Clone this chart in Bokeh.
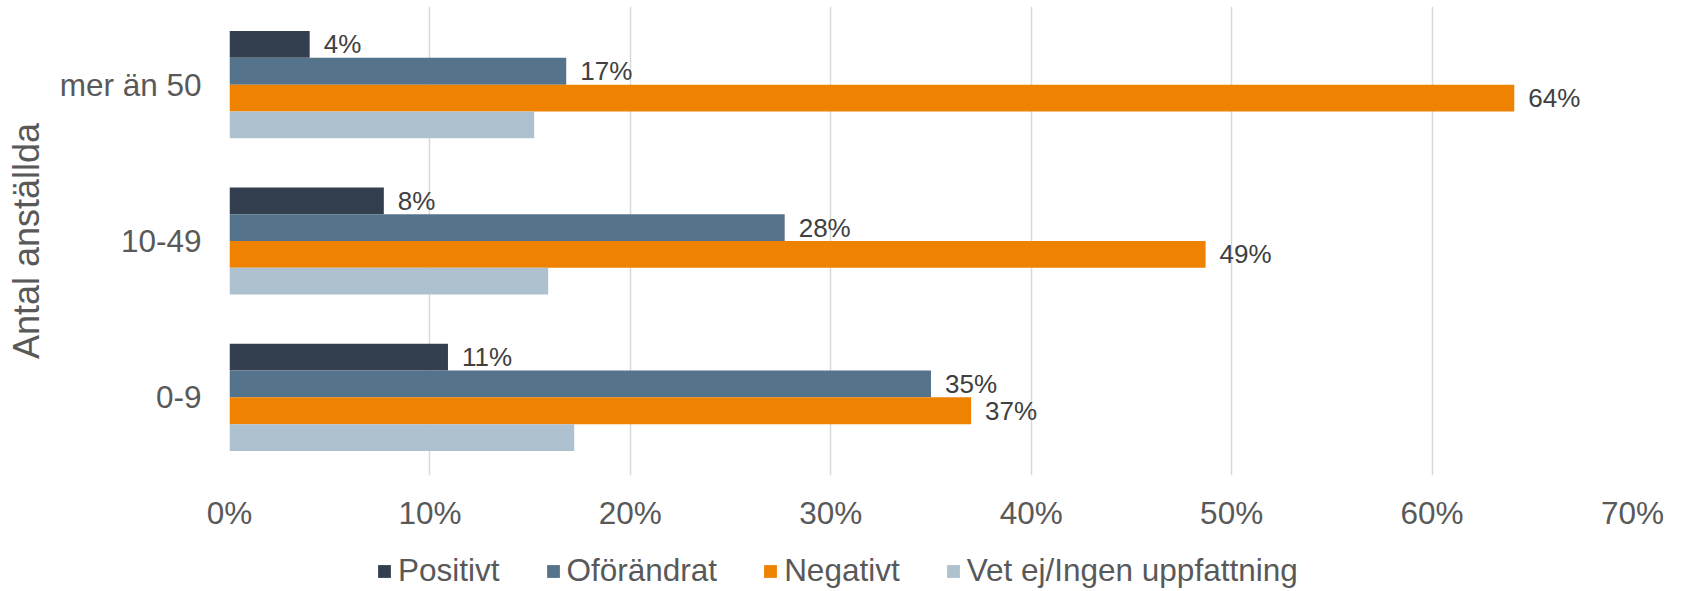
from bokeh.plotting import figure
from bokeh.layouts import column
from bokeh.models import ColumnDataSource, FactorRange, Range1d, FixedTicker, Legend, LegendItem
from bokeh.transform import dodge
from bokeh.core.properties import value
from bokeh.embed import file_html
from bokeh.resources import INLINE

categories = ["0-9", "10-49", "mer än 50"]
series_names = ["Positivt", "Oförändrat", "Negativt", "Vet ej/Ingen uppfattning"]
positivt = [10.9, 7.7, 4.0]
oforandrat = [35.0, 27.7, 16.8]
negativt = [37.0, 48.7, 64.1]
vet_ej = [17.2, 15.9, 15.2]
show_labels = [True, True, True, False]
colors = ["#333F4F", "#56738C", "#EF8200", "#ADC1CF"]
x_ticks = [0, 10, 20, 30, 40, 50, 60, 70]
x_tick_labels = ["0%", "10%", "20%", "30%", "40%", "50%", "60%", "70%"]
y_axis_title = "Antal anställda"

FONT = "Liberation Sans"

p = figure(width=1681, height=545,
           y_range=FactorRange(factors=categories),
           x_range=Range1d(0, 70),
           output_backend="svg", toolbar_location=None,
           min_border_left=229, min_border_right=49,
           min_border_top=6, min_border_bottom=70)
p.outline_line_color = None

bar_h = 0.1714
offsets = [1.5 * bar_h, 0.5 * bar_h, -0.5 * bar_h, -1.5 * bar_h]
all_series = [positivt, oforandrat, negativt, vet_ej]

for name, vals, col, off, lab in zip(series_names, all_series, colors, offsets, show_labels):
    src = ColumnDataSource(dict(cat=categories, val=vals,
                                txt=[f"{round(v)}%" for v in vals]))
    p.hbar(y=dodge("cat", off, range=p.y_range), left=0, right="val",
           height=bar_h, source=src, fill_color=col, line_color=None)
    if lab:
        p.text(x="val", y=dodge("cat", off, range=p.y_range), text="txt", source=src,
               x_offset=14, text_baseline="middle", text_align="left",
               text_font=value(FONT), text_font_size="26px", text_color="#404040")

# axes
p.xaxis.ticker = FixedTicker(ticks=x_ticks)
p.xaxis.major_label_overrides = {t: l for t, l in zip(x_ticks, x_tick_labels)}
for ax in (p.xaxis[0], p.yaxis[0]):
    ax.axis_line_color = None
    ax.major_tick_line_color = None
    ax.minor_tick_line_color = None
    ax.major_label_text_font = FONT
    ax.major_label_text_font_size = "31.5px"
    ax.major_label_text_color = "#595959"
p.xaxis.major_label_standoff = 13
p.yaxis.major_label_standoff = 22
p.yaxis.axis_label = y_axis_title
p.yaxis.axis_label_text_font = FONT
p.yaxis.axis_label_text_font_size = "36px"
p.yaxis.axis_label_text_font_style = "normal"
p.yaxis.axis_label_text_color = "#595959"
p.yaxis.axis_label_standoff = 10

p.xgrid.ticker = FixedTicker(ticks=x_ticks)
p.xgrid.grid_line_color = "#D9D9D9"
p.xgrid.grid_line_width = 1.5
p.ygrid.grid_line_color = None

# legend strip below the chart (zero-size proxy bars carry the legend swatches)
pl = figure(width=1681, height=46, x_range=Range1d(0, 1), y_range=Range1d(0, 1),
            x_axis_type=None, y_axis_type=None,
            output_backend="svg", toolbar_location=None,
            min_border_left=0, min_border_right=0, min_border_top=0, min_border_bottom=0)
pl.outline_line_color = None
pl.grid.visible = False
leg_renderers = []
for col in colors:
    leg_renderers.append(pl.hbar(y=[0], right=[0], left=[0], height=0,
                                 fill_color=col, line_color=None))
legend = Legend(items=[LegendItem(label=n, renderers=[r]) for n, r in zip(series_names, leg_renderers)],
                orientation="horizontal", location=(147, 2),
                glyph_width=16, glyph_height=16, label_standoff=6, spacing=45,
                padding=0, margin=0, border_line_color=None, background_fill_alpha=0,
                label_text_font=FONT, label_text_font_size="31.5px",
                label_text_color="#595959")
pl.add_layout(legend, "center")

layout = column(p, pl, spacing=0)
open("out.html", "w").write(file_html(layout, INLINE))
